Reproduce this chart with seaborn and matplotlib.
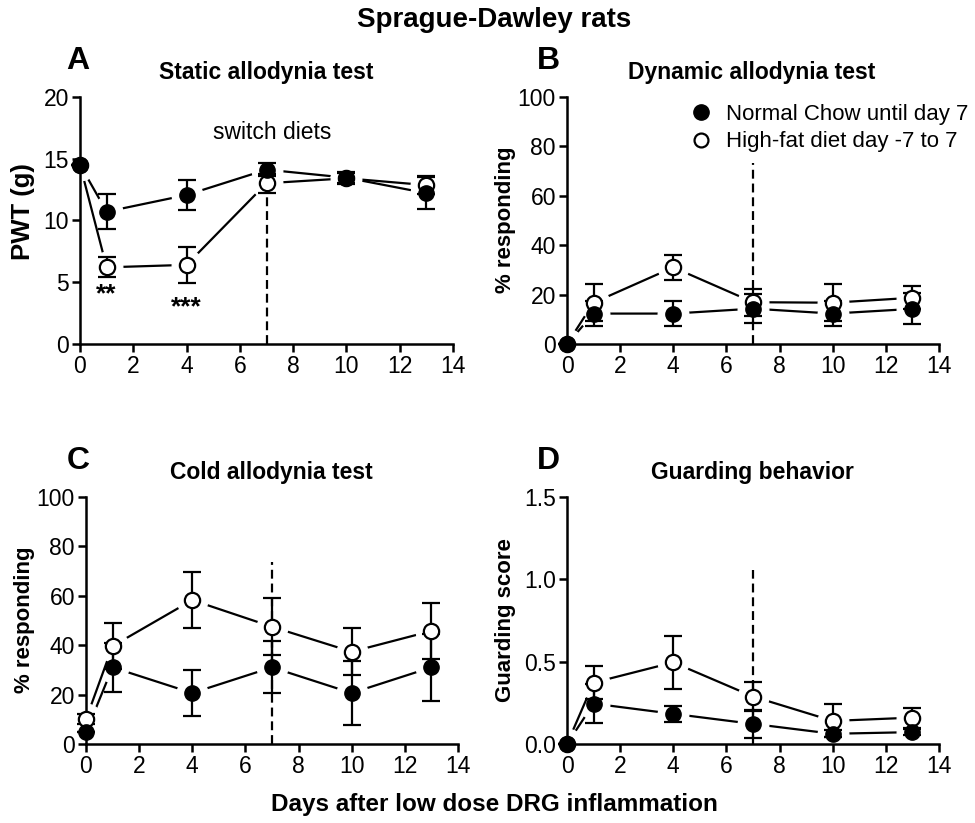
import numpy as np
import pandas as pd
import matplotlib.pyplot as plt
import seaborn as sns
from matplotlib.lines import Line2D

# ----------------------------
# Data
# ----------------------------

days = [0, 1, 4, 7, 10, 13]
switch_day = 7

# A: static allodynia, PWT (g)
static_chow = [14.5, 10.7, 12.05, 14.1, 13.45, 12.2]
static_chow_sem = [0.0, 1.4, 1.25, 0.5, 0.5, 1.3]
static_hfd = [14.5, 6.2, 6.4, 13.0, 13.4, 12.85]
static_hfd_sem = [0.0, 0.8, 1.45, 0.75, 0.4, 0.73]

# B: dynamic allodynia, % responding
dynamic_chow = [0.0, 12.3, 12.3, 14.3, 12.3, 14.2]
dynamic_chow_sem = [0.0, 5.0, 5.0, 6.0, 5.0, 6.3]
dynamic_hfd = [0.0, 16.7, 31.0, 16.9, 16.7, 18.7]
dynamic_hfd_sem = [0.0, 7.5, 5.0, 5.5, 7.5, 4.6]

# C: cold allodynia, % responding
cold_chow = [4.7, 31.0, 20.6, 31.0, 20.6, 31.0]
cold_chow_sem = [0.0, 10.0, 9.3, 10.5, 12.8, 13.6]
cold_hfd = [10.0, 39.6, 58.2, 47.4, 37.3, 45.7]
cold_hfd_sem = [2.0, 9.2, 11.3, 11.5, 9.5, 11.2]

# D: guarding score
guard_chow = [0.0, 0.245, 0.183, 0.122, 0.062, 0.072]
guard_chow_sem = [0.0, 0.12, 0.05, 0.085, 0.02, 0.02]
guard_hfd = [0.0, 0.372, 0.495, 0.288, 0.14, 0.16]
guard_hfd_sem = [0.0, 0.1, 0.16, 0.088, 0.1, 0.06]

group_labels = ["Normal Chow until day 7", "High-fat diet day -7 to 7"]

# ----------------------------
# Style
# ----------------------------

sns.set_style("ticks")
plt.rcParams["font.family"] = ["Liberation Sans", "DejaVu Sans"]
plt.rcParams["text.color"] = "black"
plt.rcParams["axes.labelcolor"] = "black"
plt.rcParams["axes.edgecolor"] = "black"
plt.rcParams["xtick.color"] = "black"
plt.rcParams["ytick.color"] = "black"

LW = 1.6
MS = 11


def draw_panel(ax, chow, chow_err, hfd, hfd_err, ylim, yticks, dash_top, fmt="%g"):
    df = pd.DataFrame({
        "day": days * 2,
        "value": chow + hfd,
        "group": [group_labels[0]] * len(days) + [group_labels[1]] * len(days),
    })

    # connecting lines, each followed by a white halo so lines stop short of markers
    for i, grp in enumerate(group_labels):
        sub = df[df["group"] == grp]
        sns.lineplot(data=sub, x="day", y="value", ax=ax, color="black",
                     lw=LW, errorbar=None, zorder=2 + i * 0.2, legend=False)
        ax.plot(sub["day"], sub["value"], "o", ms=MS + 11, color="white",
                mec="white", zorder=2.1 + i * 0.2)

    ax.vlines(switch_day, ylim[0], dash_top, colors="black", lw=LW,
              linestyles=(0, (4, 2.2)), zorder=2.6)

    for vals, err in [(chow, chow_err), (hfd, hfd_err)]:
        ax.errorbar(days, vals, yerr=err, fmt="none", ecolor="black",
                    elinewidth=LW, capsize=6.5, capthick=LW, zorder=3, clip_on=False)

    ax.plot(days, hfd, "o", ms=MS, mfc="white", mec="black", mew=LW,
            zorder=4, clip_on=False)
    ax.plot(days, chow, "o", ms=MS, color="black", zorder=4.5, clip_on=False)

    ax.set_xlim(0, 14)
    ax.set_xticks(range(0, 15, 2))
    ax.set_ylim(*ylim)
    ax.set_yticks(yticks)
    ax.set_yticklabels([fmt % t for t in yticks])
    ax.set_xlabel("")
    ax.set_ylabel("")
    sns.despine(ax=ax)
    for s in ["left", "bottom"]:
        ax.spines[s].set_linewidth(1.8)
    ax.tick_params(direction="out", length=6, width=1.8, labelsize=16.5, pad=2,
                   colors="black")


W, H = 975, 823
fig = plt.figure(figsize=(W / 100, H / 100), dpi=100)


def px_axes(x0, x1, ytop, ybot):
    return fig.add_axes([x0 / W, 1 - ybot / H, (x1 - x0) / W, (ybot - ytop) / H])


axA = px_axes(80, 453, 96.7, 344)
axB = px_axes(567, 939, 96.7, 344)
axC = px_axes(86, 458, 496.7, 744)
axD = px_axes(567, 939, 496.7, 744)

draw_panel(axA, static_chow, static_chow_sem, static_hfd, static_hfd_sem,
           (0, 20), [0, 5, 10, 15, 20], 12.3)
draw_panel(axB, dynamic_chow, dynamic_chow_sem, dynamic_hfd, dynamic_hfd_sem,
           (0, 100), [0, 20, 40, 60, 80, 100], 73)
draw_panel(axC, cold_chow, cold_chow_sem, cold_hfd, cold_hfd_sem,
           (0, 100), [0, 20, 40, 60, 80, 100], 73.5)
draw_panel(axD, guard_chow, guard_chow_sem, guard_hfd, guard_hfd_sem,
           (0, 1.5), [0, 0.5, 1.0, 1.5], 1.055, fmt="%.1f")

# annotations in panel A
axA.text(7.2, 17.1, "switch diets", ha="center", va="center", fontsize=16.5)
axA.text(1, 4.0, "**", ha="center", va="center", fontsize=19, fontweight="bold")
axA.text(4, 3.0, "***", ha="center", va="center", fontsize=19, fontweight="bold")

# legend in panel B
handles = [
    Line2D([], [], ls="none", marker="o", ms=MS, color="black"),
    Line2D([], [], ls="none", marker="o", ms=MS - 1, mfc="white", mec="black", mew=LW),
]
axB.legend(handles, group_labels, loc="upper right", frameon=False, fontsize=16,
           handletextpad=0.45, handlelength=1.3, labelspacing=0.28, borderaxespad=0.0,
           borderpad=0.0, bbox_to_anchor=(1.078, 0.97))

# panel titles, letters, y labels
panels = [
    ("A", 78, 61, "Static allodynia test", 266, 72, "PWT (g)", 23, 212, 18.5),
    ("B", 548, 61, "Dynamic allodynia test", 752, 72, "% responding", 505, 220, 16),
    ("C", 78, 461, "Cold allodynia test", 271, 473, "% responding", 25, 620, 16),
    ("D", 548, 461, "Guarding behavior", 752, 473, "Guarding score", 505, 620, 16),
]
for letter, lx, ly, title, tx, ty, ylab, yx, yy, ysize in panels:
    fig.text(lx / W, 1 - ly / H, letter, ha="center", va="center",
             fontsize=23, fontweight="bold")
    fig.text(tx / W, 1 - ty / H, title, ha="center", va="center",
             fontsize=16.5, fontweight="bold")
    fig.text(yx / W, 1 - yy / H, ylab, ha="center", va="center", rotation=90,
             fontsize=ysize, fontweight="bold")

fig.text(494 / W, 1 - 20 / H, "Sprague-Dawley rats", ha="center", va="center",
         fontsize=20, fontweight="bold")
fig.text(494 / W, 1 - 805 / H, "Days after low dose DRG inflammation",
         ha="center", va="center", fontsize=17.5, fontweight="bold")

fig.savefig("out.png", dpi=100)
